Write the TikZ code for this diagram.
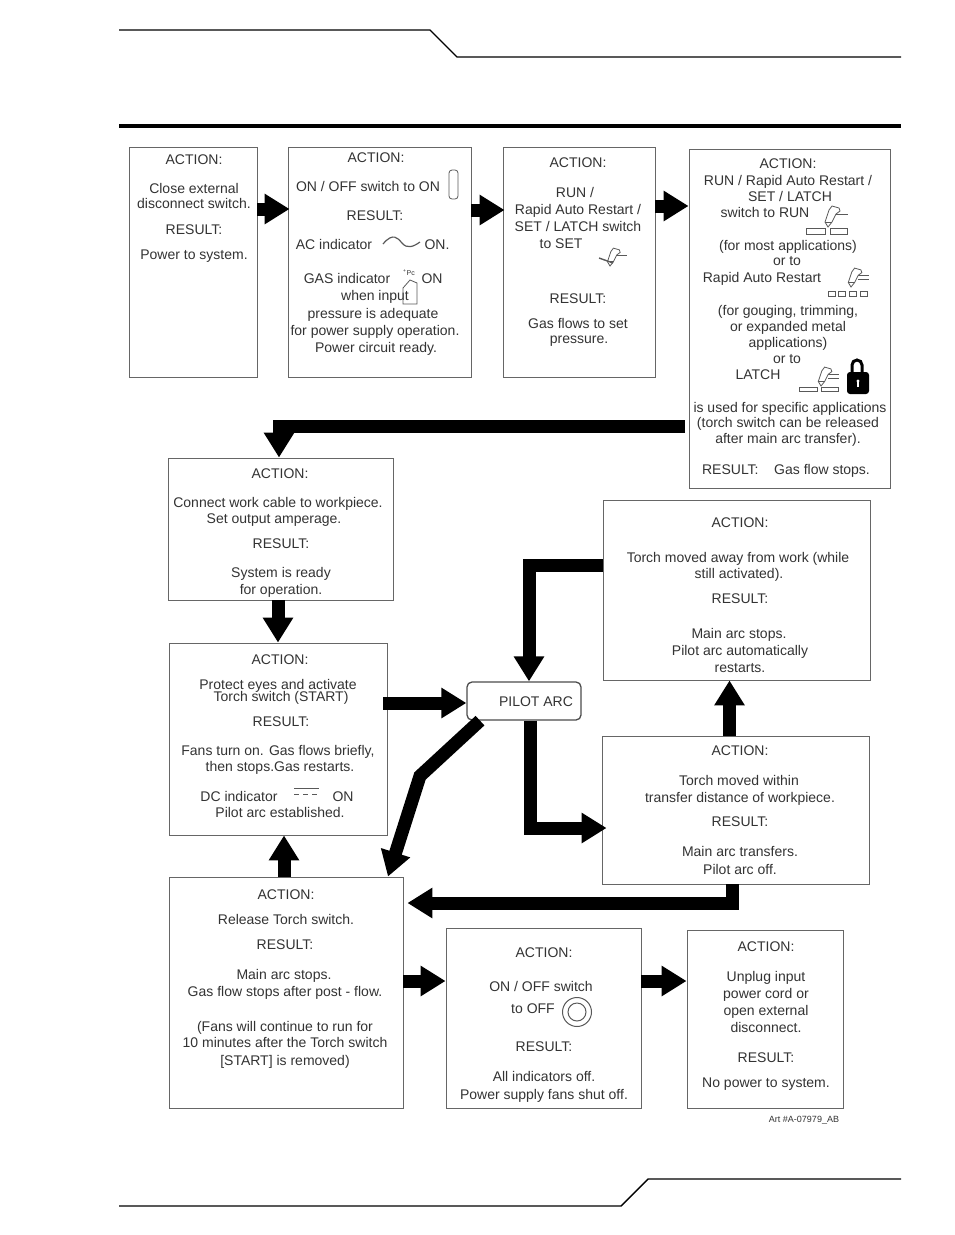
\documentclass[tikz,border=0pt]{standalone}
\usepackage{fontspec}
\setmainfont{Liberation Sans}
\usetikzlibrary{arrows.meta,calc}
\newcounter{tlc}
\newcommand{\tl}[3]{\stepcounter{tlc}\node[txt] (t\arabic{tlc}) at (#1,#2) {#3};}
\newcommand{\boxat}[5]{\node[flowbox,minimum width=#4-#2,minimum height=#5-#3] (#1) at ({(#2+#4)/2},{(#3+#5)/2}) {};}
\newcommand{\torch}[3]{%
  \begin{scope}[shift={(#1,#2)},icon,scale=#3]
  \draw (0,0) -- (-3,-5) -- (1,-17) -- (4,-21) -- (11,-19) -- (12,-16) -- (8,-13) -- (4,-5) -- cycle;
  \draw (-3,-5) -- (4,-5);
  \draw (8,-13) -- (20,-13);
  \end{scope}}
\tikzset{
  x=1pt,y=-1pt,
  flowbox/.style={draw=black!60,line width=0.9pt,inner sep=0pt,fill=white},
  pilotbox/.style={flowbox,rounded corners=5pt,line width=1.3pt,draw=black!70},
  txt/.style={font=\fontsize{14}{16}\selectfont,text=black!80,inner sep=0pt,anchor=center,text height=10pt,text depth=0pt},
  flow/.style={line width=13pt,draw=black,-{Triangle[length=25pt,width=29pt]},line join=miter},
  rule/.style={draw=black,line width=1.4pt},
  icon/.style={draw=black!65,line width=0.8pt},
}
\begin{document}
\begin{tikzpicture}
\useasboundingbox (0,0) rectangle (954,1235);
\fill[white] (0,0) rectangle (954,1235);
% page furniture
\coordinate (h1) at (119,30); \coordinate (h2) at (430,30); \coordinate (h3) at (457,57); \coordinate (h4) at (901,57);
\draw[rule] (h1) -- (h2) -- (h3) -- (h4);
\coordinate (r1) at (119,126); \coordinate (r2) at (901,126);
\draw[draw=black,line width=4.5pt] (r1) -- (r2);
\coordinate (f1) at (119,1206); \coordinate (f2) at (621,1206); \coordinate (f3) at (648,1179); \coordinate (f4) at (901,1179);
\draw[rule] (f1) -- (f2) -- (f3) -- (f4);
% boxes
\boxat{a}{129}{147}{257}{377}
\boxat{b}{288}{147}{471}{377}
\boxat{c}{503}{147}{655}{377}
\boxat{d}{689}{149}{890}{488}
\boxat{e}{168}{458}{393}{600}
\boxat{f}{169}{643}{387}{835}
\boxat{g}{603}{500}{870}{680}
\boxat{h}{602}{736}{869}{884}
\boxat{i}{169}{877}{403}{1108}
\boxat{j}{446}{928}{641}{1108}
\boxat{k}{687}{930}{843}{1108}
\node[pilotbox,minimum width=114,minimum height=38] (p) at (524,701) {};
% arrows
\draw[flow,shorten >=-2pt] (a.east |- 0,209) -- (b.west |- 0,209);
\draw[flow,shorten >=-2pt] (b.east |- 0,210) -- (c.west |- 0,210);
\draw[flow] (c.east |- 0,206) -- (d.west |- 0,206);
\coordinate (dout) at (685,426.5);
\draw[flow] (dout) -| (e.north -| 279,0);
\draw[flow] (e.south -| 278,0) -- (f.north -| 278,0);
\draw[flow,shorten <=-4pt] (f.east |- 0,703) -- (p.west |- 0,703);
\draw[flow] (g.west |- 0,565) -| (p.north -| 529,0);
\draw[flow,shorten >=-5pt] (p.south -| 530,0) |- (h.west |- 0,828);
\coordinate (bend) at (420,776);
\draw[flow] (p.south -| 480,0) -- (bend) -- (i.north -| 388,0);
\draw[flow] (h.north -| 729.5,0) -- (g.south -| 729.5,0);
\draw[flow,shorten >=4pt] (h.south -| 732.5,0) |- (i.east |- 0,903);
\draw[flow] (i.north -| 284,0) -- (f.south -| 284,0);
\draw[flow] (i.east |- 0,981) -- (j.west |- 0,981);
\draw[flow] (j.east |- 0,981) -- (k.west |- 0,981);
% Box A
\tl{194}{159}{ACTION:}
\tl{194}{188}{Close external}
\tl{194}{203}{disconnect switch.}
\tl{194}{229}{RESULT:}
\tl{194}{254}{Power to system.}
% Box B
\tl{376}{157}{ACTION:}
\tl{368}{186}{ON / OFF switch to ON}
\tl{375}{215}{RESULT:}
\tl{334}{244}{AC  indicator}
\tl{437}{244}{ON.}
\tl{347}{278}{GAS indicator}
\tl{432}{278}{ON}
\tl{375}{295}{when input}
\tl{373}{313}{pressure is adequate}
\tl{375}{330}{for power supply operation.}
\tl{376}{347}{Power circuit ready.}
\draw[icon,rounded corners=3pt] (449,170) rectangle (458,199);
\draw[icon,line width=1.2pt] (383,244) .. controls (393,232) and (398,238) .. (402,243) .. controls (407,249) and (413,247) .. (420,242);
\draw[icon] (403,288) -- (403,304) -- (417,304) -- (417,283) -- (410,280) -- (403,288);
\node[txt,font=\fontsize{7}{8}\selectfont,text height=5pt] (pc) at (409,273) {\textsuperscript{+}Pc};
% Box C
\tl{578}{162}{ACTION:}
\tl{575}{192}{RUN /}
\tl{578}{209}{Rapid Auto Restart /}
\tl{578}{226}{SET / LATCH  switch}
\tl{561}{243}{to SET}
\tl{578}{298}{RESULT:}
\tl{578}{323}{Gas flows to set}
\tl{579}{338}{pressure.}
\torch{610}{266}{0.85}
\coordinate (c1) at (599,258); \coordinate (c2) at (613,263);
\draw[icon,line width=1.4pt] (c1) -- (c2);
% Box D
\tl{788}{163}{ACTION:}
\tl{788}{180}{RUN / Rapid Auto Restart /}
\tl{790}{196}{SET / LATCH}
\tl{765}{212}{switch to RUN}
\torch{828}{227}{1}
\draw[icon] (806,228) rectangle (825,234);
\draw[icon] (830,228) rectangle (847,234);
\tl{788}{245}{(for most applications)}
\tl{787}{260}{or to}
\tl{762}{277}{Rapid Auto Restart}
\torch{851}{287}{0.9}
\coordinate (dl1) at (858,279); \coordinate (dl2) at (869,279);
\draw[icon] (dl1) -- (dl2);
\foreach \xx in {828,838,849,860}{\draw[icon] (\xx,291) rectangle ++(7,5);}
\tl{788}{310}{(for gouging, trimming,}
\tl{788}{326}{or expanded metal}
\tl{788}{342}{applications)}
\tl{787}{358}{or to}
\tl{758}{374}{LATCH}
\torch{821}{386}{0.9}
\coordinate (dl3) at (828,378); \coordinate (dl4) at (839,378);
\draw[icon] (dl3) -- (dl4);
\draw[icon] (799,387) rectangle (817,391);
\draw[icon] (821,387) rectangle (838,391);
\draw[line width=3pt,black] (852,375) -- (852,365) arc (180:360:5) -- (862,375);
\fill[black,rounded corners=3pt] (847,372) rectangle (869,394);
\fill[white] (858,381) circle (1.7pt);
\fill[white] (857,381) rectangle (859,387);
\tl{790}{407}{is used for specific applications}
\tl{788}{422}{(torch switch can be released}
\tl{788}{438}{after main arc transfer).}
\tl{786}{469}{RESULT:\ \ \ \ Gas flow stops.}
% Box E
\tl{280}{473}{ACTION:}
\tl{278}{502}{Connect work cable to workpiece.}
\tl{274}{518}{Set output amperage.}
\tl{281}{543}{RESULT:}
\tl{281}{572}{System is ready}
\tl{281}{589}{for operation.}
% Box F
\tl{280}{659}{ACTION:}
\tl{278}{684}{Protect eyes and activate}
\tl{281}{696}{Torch switch (START)}
\tl{281}{721}{RESULT:}
\tl{278}{750}{Fans turn on. Gas flows briefly,}
\tl{280}{766}{then stops.Gas restarts.}
\tl{239}{796}{DC indicator}
\tl{343}{796}{ON}
\tl{280}{812}{Pilot arc established.}
\draw[icon,line width=1pt] (294,788) -- (319,788);
\draw[icon,line width=1pt,dash pattern=on 5pt off 4pt] (294,794) -- (319,794);
% Pilot
\tl{536}{701}{PILOT ARC}
% Box G
\tl{740}{522}{ACTION:}
\tl{738}{557}{Torch moved away from work (while}
\tl{739}{573}{still activated).}
\tl{740}{598}{RESULT:}
\tl{739}{633}{Main arc stops.}
\tl{740}{650}{Pilot arc automatically}
\tl{740}{667}{restarts.}
% Box H
\tl{740}{750}{ACTION:}
\tl{739}{780}{Torch moved within}
\tl{740}{797}{transfer distance of workpiece.}
\tl{740}{821}{RESULT:}
\tl{740}{851}{Main arc transfers.}
\tl{740}{869}{Pilot arc off.}
% Box I
\tl{286}{894}{ACTION:}
\tl{286}{919}{Release Torch switch.}
\tl{285}{944}{RESULT:}
\tl{284}{974}{Main arc stops.}
\tl{285}{991}{Gas flow stops after post - flow.}
\tl{285}{1026}{(Fans will continue to run for}
\tl{285}{1042}{10 minutes after the Torch switch}
\tl{285}{1060}{[START] is removed)}
% Box J
\tl{544}{952}{ACTION:}
\tl{541}{986}{ON / OFF switch}
\tl{533}{1008}{to OFF}
\draw[icon,line width=1pt] (577,1012) circle (14.5pt);
\draw[icon,line width=1pt] (577,1012) circle (9pt);
\tl{544}{1046}{RESULT:}
\tl{544}{1076}{All  indicators off.}
\tl{544}{1094}{Power supply fans shut off.}
% Box K
\tl{766}{946}{ACTION:}
\tl{766}{976}{Unplug input}
\tl{766}{993}{power cord or}
\tl{766}{1010}{open external}
\tl{766}{1027}{disconnect.}
\tl{766}{1057}{RESULT:}
\tl{766}{1082}{No power to system.}
% Art number
\node[txt,font=\fontsize{9}{10}\selectfont,text height=6.5pt] (art) at (804,1119) {Art \#A-07979\_AB};
\end{tikzpicture}
\end{document}
